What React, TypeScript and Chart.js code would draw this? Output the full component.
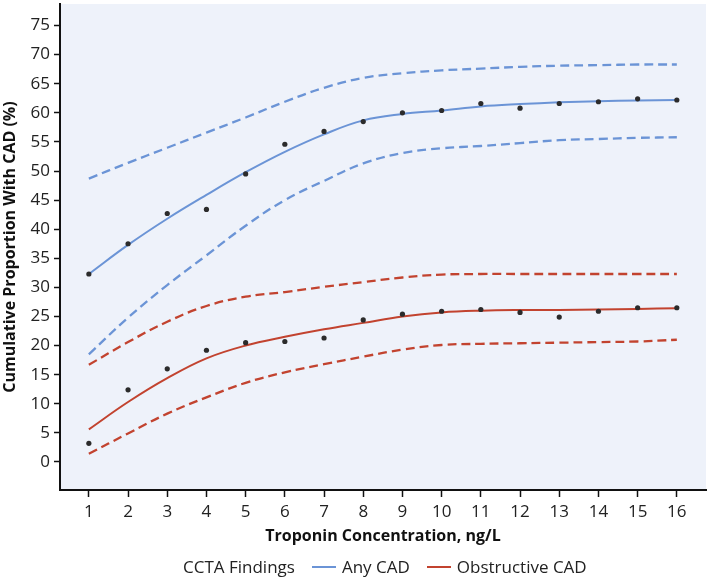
import { useEffect, useRef } from "react";
import Chart from "chart.js/auto";

// troponin thresholds (ng/L)
const troponin = [1, 2, 3, 4, 5, 6, 7, 8, 9, 10, 11, 12, 13, 14, 15, 16];

// Any CAD
const anyCadObserved = [32.3, 37.5, 42.7, 43.4, 49.5, 54.6, 56.8, 58.5, 60.0, 60.4, 61.6, 60.8, 61.6, 61.9, 62.4, 62.2];
const anyCadFit = [32.3, 37.3, 41.8, 45.9, 49.8, 53.3, 56.3, 58.7, 59.8, 60.4, 61.1, 61.5, 61.8, 62.0, 62.1, 62.2];
const anyCadUpper = [48.7, 51.4, 54.0, 56.6, 59.2, 61.9, 64.3, 66.0, 66.8, 67.3, 67.6, 67.9, 68.1, 68.2, 68.3, 68.3];
const anyCadLower = [18.5, 24.8, 30.4, 35.5, 40.6, 45.0, 48.3, 51.3, 53.1, 53.9, 54.3, 54.8, 55.3, 55.5, 55.7, 55.8];

// Obstructive CAD
const obstructiveObserved = [3.2, 12.4, 16.0, 19.2, 20.5, 20.7, 21.3, 24.4, 25.4, 25.9, 26.2, 25.7, 24.9, 25.9, 26.5, 26.5];
const obstructiveFit = [5.6, 10.3, 14.4, 17.8, 20.0, 21.5, 22.8, 23.9, 25.0, 25.7, 26.0, 26.1, 26.1, 26.2, 26.3, 26.4];
const obstructiveUpper = [16.7, 20.6, 24.1, 26.8, 28.4, 29.2, 30.1, 30.9, 31.7, 32.2, 32.3, 32.3, 32.3, 32.3, 32.3, 32.3];
const obstructiveLower = [1.4, 4.9, 8.3, 11.1, 13.6, 15.4, 16.8, 18.1, 19.3, 20.1, 20.3, 20.4, 20.5, 20.6, 20.7, 21.0];

const yTicks = [0, 5, 10, 15, 20, 25, 30, 35, 40, 45, 50, 55, 60, 65, 70, 75];

const BLUE = "#6b94d6";
const RED = "#c2432f";
const DOT = "#2b2b2b";
const FONT = "'Open Sans', sans-serif";

const pts = (ys: number[]) => troponin.map((x, i) => ({ x, y: ys[i] }));

const plotBackground = {
  id: "plotBackground",
  beforeDraw(chart: any) {
    const { ctx, chartArea } = chart;
    ctx.save();
    ctx.fillStyle = "#eef2fa";
    ctx.fillRect(chartArea.left, chartArea.top, chartArea.width, chartArea.height);
    ctx.restore();
  },
};

function CadChart() {
  const canvasRef = useRef<HTMLCanvasElement | null>(null);

  useEffect(() => {
    if (!canvasRef.current) return;

    const dots = (ys: number[]) => ({
      data: pts(ys),
      showLine: false,
      pointRadius: 2.6,
      pointBackgroundColor: DOT,
      pointBorderWidth: 0,
    });
    const line = (ys: number[], color: string, dashed: boolean) => ({
      data: pts(ys),
      showLine: true,
      borderColor: color,
      borderWidth: dashed ? 2.3 : 2,
      borderDash: dashed ? [9, 5] : [],
      pointRadius: 0,
      tension: 0.4,
    });

    const chart = new Chart(canvasRef.current, {
      type: "scatter",
      data: {
        datasets: [
          dots(anyCadObserved),
          dots(obstructiveObserved),
          line(anyCadFit, BLUE, false),
          line(obstructiveFit, RED, false),
          line(anyCadUpper, BLUE, true),
          line(anyCadLower, BLUE, true),
          line(obstructiveUpper, RED, true),
          line(obstructiveLower, RED, true),
        ],
      },
      options: {
        animation: false,
        responsive: false,
        layout: { padding: { top: 0, right: 0, bottom: 30, left: 0 } },
        plugins: { legend: { display: false }, tooltip: { enabled: false } },
        scales: {
          x: {
            type: "linear",
            min: 0.264,
            max: 16.744,
            afterBuildTicks: (s: any) => {
              s.ticks = troponin.map((v) => ({ value: v }));
            },
            afterFit: (s: any) => {
              s.height = 58;
              s.paddingLeft = 0;
              s.paddingRight = 0;
            },
            grid: { drawOnChartArea: false, tickLength: 7, tickColor: "#111", tickWidth: 1.5 },
            border: { display: true, color: "#111", width: 2 },
            ticks: { padding: 5, color: "#222", font: { family: FONT, size: 17 }, maxRotation: 0, autoSkip: false },
            title: {
              display: true,
              text: "Troponin Concentration, ng/L",
              color: "#111",
              font: { family: FONT, size: 16, weight: "bold" },
              padding: { top: 2, bottom: 2 },
            },
          },
          y: {
            min: -4.82,
            max: 78.7,
            afterBuildTicks: (s: any) => {
              s.ticks = yTicks.map((v) => ({ value: v }));
            },
            afterFit: (s: any) => {
              s.width = 60;
              s.paddingTop = 0;
              s.paddingBottom = 0;
            },
            grid: { drawOnChartArea: false, tickLength: 6, tickColor: "#111", tickWidth: 1.5 },
            border: { display: true, color: "#111", width: 2 },
            ticks: { padding: 4, color: "#222", font: { family: FONT, size: 17 } },
            title: {
              display: true,
              text: "Cumulative Proportion With CAD (%)",
              color: "#111",
              font: { family: FONT, size: 16, weight: "bold" },
              padding: { top: 1, bottom: 0 },
            },
          },
        },
      },
      plugins: [plotBackground],
    });

    return () => chart.destroy();
  }, []);

  const legendLine = (color: string) => (
    <span style={{ display: "inline-block", width: 24, height: 2, background: color, margin: "0 6px 0 0" }} />
  );

  return (
    <div style={{ position: "absolute", left: 0, top: 0, width: 710, height: 578 }}>
      <canvas ref={canvasRef} width={710} height={578} style={{ display: "block" }} />
      <div
        style={{
          position: "absolute",
          left: 183,
          top: 557,
          display: "flex",
          alignItems: "center",
          fontFamily: FONT,
          fontSize: 17,
          lineHeight: "20px",
          color: "#222",
          whiteSpace: "nowrap",
        }}
      >
        <span style={{ marginRight: 17 }}>CCTA Findings</span>
        {legendLine(BLUE)}
        <span style={{ marginRight: 17 }}>Any CAD</span>
        {legendLine(RED)}
        <span>Obstructive CAD</span>
      </div>
    </div>
  );
}

export default function App() {
  return <CadChart />;
}
